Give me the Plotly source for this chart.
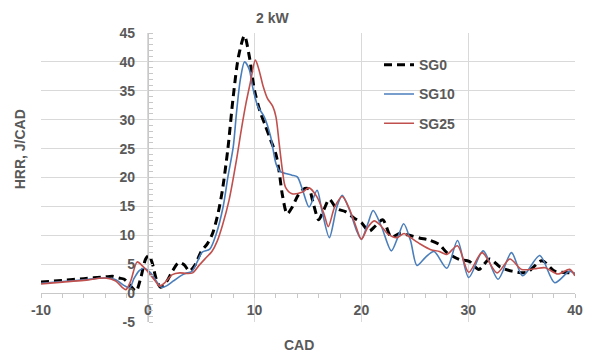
import plotly.graph_objects as go

# ---- data ----
sg0_x = [-10, -8, -6, -4, -3.3, -2.7, -2.2, -1.6, -1.1, -0.65, -0.2, 0.1, 0.4, 0.8, 1.2, 1.7, 2.3, 2.9,
         3.4, 3.9, 4.4, 5.0, 5.6, 6.1, 6.6, 7.0, 7.5, 8.0, 8.5, 9.05, 9.5, 10.0, 10.5, 11.0, 11.5, 12.0,
         12.3, 12.6, 13.05, 13.5, 14.1, 14.7, 15.1, 15.5, 16.0, 16.5, 17.0, 17.7, 18.5, 19.3, 20.0, 20.7,
         21.3, 22.0, 22.8, 23.6, 24.5, 25.5, 26.3, 27.3, 28.0, 29.2, 30.1, 31.0, 32.0, 33.0, 34.1, 35.5,
         36.9, 38.1, 39.5, 40.0]
sg0_y = [1.9, 2.2, 2.5, 2.8, 2.9, 2.6, 2.4, 1.2, 0.35, 2.7, 5.9, 6.5, 5.3, 2.4, 1.0, 1.8, 3.8, 5.3,
         4.9, 3.8, 4.8, 7.2, 8.6, 10.5, 14.0, 18.0, 25.0, 34.0, 41.0, 44.5, 41.0, 35.0, 31.5, 29.0, 26.5, 24.0,
         21.0, 17.0, 13.7, 14.8, 17.0, 18.1, 18.0, 15.5, 12.7, 14.5, 16.2, 14.6, 14.1, 13.0, 12.2, 10.7,
         11.6, 12.7, 9.7, 10.3, 10.0, 9.5, 9.2, 8.4, 7.0, 5.8, 5.5, 4.1, 5.9, 4.5, 3.8, 3.6,
         5.6, 3.8, 3.5, 3.3]

sg10_x = [-10, -8, -6, -4, -3.0, -2.2, -1.7, -1.3, -0.8, -0.35, 0.26, 0.9, 1.3, 1.8, 2.4, 3.0, 3.5, 4.1,
          4.6, 5.1, 5.8, 6.4, 7.05, 7.5, 8.0, 8.3, 8.66, 9.06, 9.5, 9.8, 10.3, 10.9, 11.5, 12.0, 12.4,
          12.9, 13.5, 14.0, 14.5, 15.1, 15.85, 16.3, 17.0, 17.7, 18.2, 18.9, 19.55, 20.0, 20.6, 21.1, 21.9,
          22.8, 23.4, 23.96, 24.6, 25.2, 26.0, 26.8, 28.0, 29.0, 30.05, 31.4, 32.8, 34.05, 35.1, 36.7,
          38.1, 39.5, 40.0]
sg10_y = [1.7, 2.0, 2.3, 2.6, 2.3, 1.3, 0.9, 2.5, 3.9, 4.3, 3.5, 1.8, 1.0, 1.3, 2.1, 2.9, 3.4, 3.7,
          5.3, 7.1, 7.6, 10.2, 14.9, 20.1, 25.3, 31.1, 36.9, 40.0, 38.7, 35.8, 32.3, 30.5, 27.1, 22.4, 21.0,
          20.7, 20.4, 20.1, 17.8, 14.9, 17.8, 14.3, 9.6, 14.9, 16.9, 14.3, 10.8, 9.3, 12.0, 14.3, 11.4,
          7.3, 9.6, 12.0, 9.1, 4.8, 6.2, 7.2, 4.3, 9.1, 2.7, 7.3, 2.4, 7.0, 3.0, 6.5,
          1.8, 3.8, 3.3]

sg25_x = [-10, -8, -6, -4, -3.0, -2.4, -2.05, -1.6, -1.0, -0.5, 0.1, 0.7, 1.1, 1.6, 2.3, 3.0, 3.6, 4.2,
          4.8, 5.5, 6.0, 6.5, 7.0, 7.6, 8.3, 8.75, 9.2, 9.6, 10.07, 10.4, 10.8, 11.2, 11.7, 12.0, 12.3,
          12.6, 12.9, 13.5, 14.5, 15.1, 15.85, 16.5, 16.9, 17.5, 18.2, 18.8, 19.4, 20.0, 20.6, 21.2, 21.8,
          22.5, 23.3, 24.0, 24.6, 25.5, 26.5, 27.3, 28.0, 29.0, 30.05, 31.3, 32.7, 33.9, 35.0, 36.2, 37.2,
          38.4, 39.5, 40.0]
sg25_y = [1.6, 1.9, 2.2, 2.6, 2.1, 1.0, 0.6, 2.1, 5.4, 4.7, 3.5, 2.1, 1.2, 1.8, 3.2, 3.5, 3.4, 3.5,
          4.8, 6.2, 7.2, 9.0, 11.8, 16.0, 23.0, 28.2, 32.9, 36.4, 40.3, 38.7, 35.8, 33.7, 32.3, 30.5, 25.9,
          21.3, 18.3, 17.2, 17.5, 18.2, 16.6, 13.7, 11.5, 14.9, 16.7, 14.9, 12.0, 9.3, 11.4, 12.5, 11.7,
          10.2, 9.6, 10.3, 9.6, 8.5, 7.5, 7.2, 6.7, 8.2, 3.6, 7.0, 3.5, 5.9, 4.1, 4.2, 4.4,
          3.3, 4.1, 3.0]

x_ticks = [-10, 0, 10, 20, 30, 40]
y_ticks = [-5, 0, 5, 10, 15, 20, 25, 30, 35, 40, 45]

TXT = "#595959"
FONT = "Liberation Sans, Arial, sans-serif"

fig = go.Figure()
fig.add_trace(go.Scatter(x=sg0_x, y=sg0_y, name="<b>SG0</b>", mode="lines", legendgroup="a",
                         line=dict(color="black", width=3, dash="8px,5px", shape="spline", smoothing=0.8)))
fig.add_trace(go.Scatter(x=sg10_x, y=sg10_y, name="<b>SG10</b>", mode="lines", legendgroup="b",
                         line=dict(color="#4a7ebb", width=1.6, shape="spline", smoothing=0.8)))
fig.add_trace(go.Scatter(x=sg25_x, y=sg25_y, name="<b>SG25</b>", mode="lines", legendgroup="c",
                         line=dict(color="#c0504d", width=1.6, shape="spline", smoothing=0.8)))

fig.update_layout(
    width=594, height=354,
    margin=dict(l=41, r=11, t=33, b=32),
    paper_bgcolor="white", plot_bgcolor="white",
    font=dict(family=FONT, size=14, color=TXT),
    showlegend=True,
    legend=dict(x=0.633, y=0.944, xanchor="left", yanchor="top", bgcolor="rgba(0,0,0,0)",
                font=dict(size=14, color=TXT), tracegroupgap=8),
    xaxis=dict(range=[-10, 40], tickvals=x_ticks, ticktext=[f"<b>{v}</b>" for v in x_ticks],
               showgrid=True, gridcolor="#d9d9d9", gridwidth=1, zeroline=False,
               anchor="free", position=0.1, showline=True, linecolor="#c8c8c8", linewidth=1,
               ticks="", ticklabelstandoff=4,
               minor=dict(dtick=2, ticks="outside", ticklen=4, tickcolor="#c8c8c8", showgrid=False)),
    yaxis=dict(range=[-5, 45], tickvals=y_ticks, ticktext=[f"<b>{v}</b>" for v in y_ticks],
               showgrid=True, gridcolor="#d9d9d9", gridwidth=1, zeroline=False,
               anchor="free", position=0.2, showline=True, linecolor="#c8c8c8", linewidth=1,
               ticks="", ticklabelstandoff=10,
               minor=dict(dtick=1, ticks="inside", ticklen=4, tickcolor="#c8c8c8", showgrid=False)),
    annotations=[
        dict(text="<b>2 kW</b>", xref="paper", yref="paper", x=0.4336, y=1.0536, showarrow=False,
             xanchor="center", yanchor="middle", font=dict(size=14, color=TXT)),
        dict(text="<b>CAD</b>", xref="paper", yref="paper", x=0.4834, y=-0.0796, showarrow=False,
             xanchor="center", yanchor="middle", font=dict(size=14, color=TXT)),
        dict(text="<b>HRR, J/CAD</b>", xref="paper", yref="paper", x=-0.0387, y=0.5986, showarrow=False,
             xanchor="center", yanchor="middle", textangle=-90, font=dict(size=14, color=TXT)),
    ],
)

fig.write_html("out.html")
